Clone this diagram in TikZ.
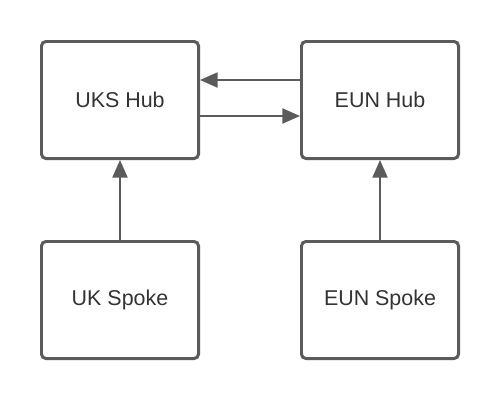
\documentclass[tikz,border=0pt]{standalone}
\usepackage{fontspec}
\setmainfont{Liberation Sans}
\usetikzlibrary{arrows.meta}
\definecolor{edge}{HTML}{5B5B5B}
\definecolor{txt}{HTML}{333333}
\begin{document}
\begin{tikzpicture}[x=0.02cm,y=-0.02cm,
  box/.style={draw=edge,line width=1.7pt,rounded corners=2.5pt,fill=white,
    minimum width=160*0.02cm-1.7pt,minimum height=120*0.02cm-1.7pt,
    text=txt,font=\fontsize{12.2}{14}\selectfont,inner sep=0pt},
  conn/.style={draw=edge,line width=1.2pt,-{Triangle[length=10pt,width=8.5pt]}}]
\useasboundingbox[fill=white] (0,0) rectangle (500,400);
\node[box] (uks) at (120,100) {UKS Hub};
\node[box] (eun) at (380,100) {EUN Hub};
\node[box] (uk) at (120,300) {UK Spoke};
\node[box] (euns) at (380,300) {EUN Spoke};
\draw[conn] (eun.west |- 0,80) -- (uks.east |- 0,80);
\draw[conn] (uks.east |- 0,116) -- (eun.west |- 0,116);
\draw[conn] (uk.north) -- (uks.south);
\draw[conn] (euns.north) -- (eun.south);
\end{tikzpicture}
\end{document}
